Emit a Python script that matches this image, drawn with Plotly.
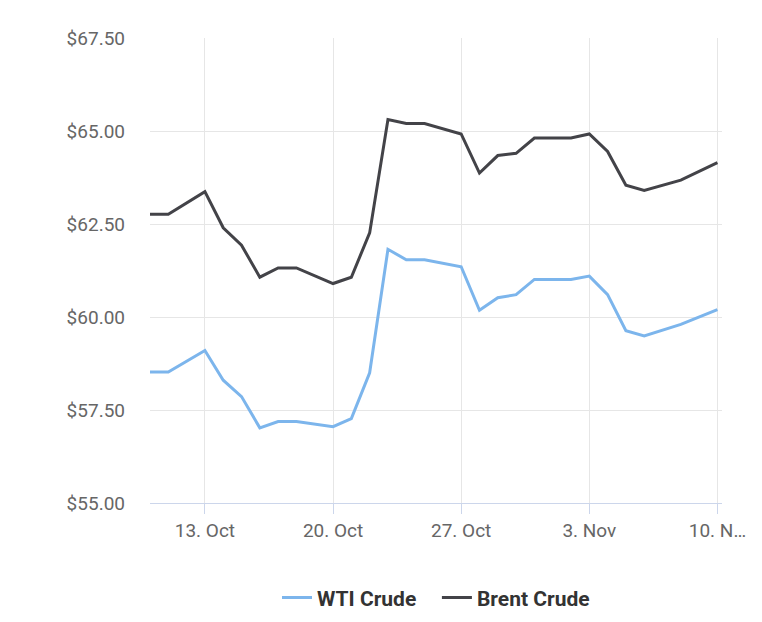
import plotly.graph_objects as go

# Daily prices (USD per barrel)
dates = ["2025-10-10", "2025-10-11", "2025-10-13", "2025-10-14", "2025-10-15", "2025-10-16",
         "2025-10-17", "2025-10-18", "2025-10-20", "2025-10-21", "2025-10-22", "2025-10-23",
         "2025-10-24", "2025-10-25", "2025-10-27", "2025-10-28", "2025-10-29", "2025-10-30",
         "2025-10-31", "2025-11-02", "2025-11-03", "2025-11-04", "2025-11-05", "2025-11-06",
         "2025-11-08", "2025-11-10"]
wti = [58.52, 58.52, 59.1, 58.3, 57.86, 57.02, 57.19, 57.19, 57.05, 57.27, 58.5, 61.82,
       61.54, 61.54, 61.35, 60.18, 60.52, 60.6, 61.01, 61.01, 61.1, 60.6, 59.63, 59.49,
       59.8, 60.2]
brent = [62.76, 62.76, 63.37, 62.4, 61.93, 61.07, 61.32, 61.32, 60.9, 61.07, 62.26, 65.31,
         65.2, 65.2, 64.92, 63.87, 64.34, 64.4, 64.81, 64.81, 64.92, 64.45, 63.54, 63.4,
         63.68, 64.15]
tick_dates = ["2025-10-13", "2025-10-20", "2025-10-27", "2025-11-03", "2025-11-10"]
tick_labels = ["13. Oct", "20. Oct", "27. Oct", "3. Nov", "10. N…"]
y_ticks = [55, 57.5, 60, 62.5, 65, 67.5]

fig = go.Figure()
fig.add_trace(go.Scatter(x=dates, y=wti, name="WTI Crude   ", mode="lines",
                         line=dict(color="#7cb5ec", width=3)))
fig.add_trace(go.Scatter(x=dates, y=brent, name="Brent Crude", mode="lines",
                         line=dict(color="#434348", width=3)))

fig.update_layout(
    width=762, height=622,
    margin=dict(l=142, r=48, t=30, b=125),
    plot_bgcolor="white", paper_bgcolor="white",
    font=dict(family="Roboto", size=19, color="#666666"),
    showlegend=True,
    legend=dict(orientation="h", x=0.5, xanchor="center", y=-0.16, yanchor="top",
                font=dict(size=21, color="#333333", weight="bold")),
)
fig.update_xaxes(range=["2025-10-10", "2025-11-10 06:00"], tickvals=tick_dates, ticktext=tick_labels,
                 showgrid=True, gridcolor="#e6e6e6", showline=True, linecolor="#ccd6eb",
                 ticks="outside", tickcolor="#ccd6eb", ticklen=10, zeroline=False)
fig.update_yaxes(range=[55, 67.5], tickvals=y_ticks,
                 ticktext=[f"${v:.2f}" for v in y_ticks],
                 showgrid=True, gridcolor="#e6e6e6", zeroline=False, ticklabelstandoff=24)

fig.write_html("out.html")
